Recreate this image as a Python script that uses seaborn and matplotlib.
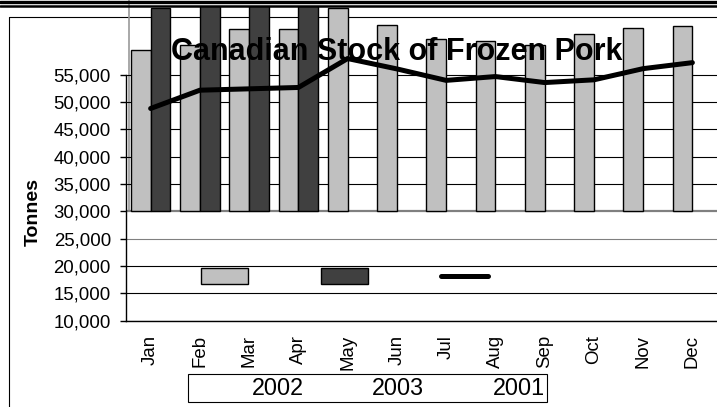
import numpy as np
import pandas as pd
import matplotlib
matplotlib.use("Agg")
import matplotlib.pyplot as plt
import seaborn as sns
from matplotlib.lines import Line2D
from matplotlib.patches import Patch

# ---- data ----
months = ["Jan", "Feb", "Mar", "Apr", "May", "Jun",
          "Jul", "Aug", "Sep", "Oct", "Nov", "Dec"]
stock_2002 = [59600, 60500, 63500, 63500, 67300, 64200,
              61650, 61300, 60400, 62550, 63650, 64000]
stock_2003 = [67300, 69000, 69500, 69500] + [np.nan] * 8
stock_2001 = [48850, 52200, 52450, 52700, 58000, 56100,
              54000, 54700, 53600, 54100, 56150, 57250]
year_labels = ["2002", "2003", "2001"]
bar_base = 30000
y_ticks = list(range(10000, 55001, 5000))

LIGHT = "#C0C0C0"
DARK = "#404040"
W, H = 717, 407

sns.set_style("white")
plt.rcParams["font.family"] = ["Liberation Sans", "DejaVu Sans"]
plt.rcParams.update({"text.color": "black", "axes.labelcolor": "black",
                     "xtick.color": "black", "ytick.color": "black"})

fig = plt.figure(figsize=(W / 100, H / 100), dpi=100)
ax = fig.add_axes([126 / W, (H - 320.5) / H, (W - 126) / W, (320.5 - 6.7) / H])
ax.patch.set_visible(False)

df = pd.DataFrame({
    "Month": months * 2,
    "Year": ["2002"] * 12 + ["2003"] * 12,
    "Tonnes": stock_2002 + stock_2003,
})
sns.barplot(data=df, x="Month", y="Tonnes", hue="Year", order=months,
            hue_order=["2002", "2003"], palette=[LIGHT, DARK],
            edgecolor="black", linewidth=1.0, errorbar=None,
            legend=False, ax=ax, zorder=2)

# bars start at 30,000 in the original
for p in ax.patches:
    h = p.get_height()
    if not np.isfinite(h) or h == 0:
        p.set_visible(False)
        continue
    p.set_y(bar_base)
    p.set_height(h - bar_base)

sns.lineplot(x=np.arange(len(months)), y=stock_2001, color="black", lw=3.6,
             ax=ax, zorder=4, solid_capstyle="round")

ax.set_xlim(-0.5, 11.5)
ax.set_ylim(10000, 67500)
ax.set_yticks(y_ticks)
ax.set_yticklabels([f"{v:,}" for v in y_ticks], fontsize=13.4, color="black")
ax.set_xticks(range(12))
ax.set_xticklabels(months, rotation=90, fontsize=13.4, color="black")
ax.set_xticks(np.arange(-0.5, 12, 1), minor=True)
ax.tick_params(axis="x", which="major", length=0, pad=10.5)
ax.tick_params(axis="x", which="minor", length=4.3, width=1, color="black", direction="out")
ax.tick_params(axis="y", length=4.3, width=1, color="black", direction="out", pad=6.5, left=True)
ax.set_xlabel("")
ax.set_ylabel("")

ax.set_axisbelow(True)
ax.yaxis.grid(True, color="black", lw=0.8)
ax.xaxis.grid(False)
glines = ax.get_ygridlines()
glines[3].set_color("#808080")
glines[4].set_color("#808080")
glines[4].set_linewidth(1.6)

for s in ["top", "right"]:
    ax.spines[s].set_visible(False)
ax.spines["left"].set_bounds(10000, 55000)
ax.spines["left"].set_color("black")
ax.spines["bottom"].set_color("black")
ax.spines["left"].set_linewidth(1)
ax.spines["bottom"].set_linewidth(1)

# chart frame and header rules
def fline(xs, ys, **kw):
    fig.add_artist(Line2D([x / W for x in xs], [1 - y / H for y in ys],
                          transform=fig.transFigure, **kw))

fline([0, W], [1.6, 1.6], color="black", lw=2.4)
fline([0, W], [5.5, 5.5], color="black", lw=1.8)
fline([9, W], [17, 17], color="black", lw=0.8, zorder=-1)
fline([9, 9], [17, H], color="black", lw=0.8, zorder=-1)
fline([128.5, 128.5], [0, 210], color="#999999", lw=1.2, zorder=-1)

fig.text(396.5 / W, 1 - 51.5 / H, "Canadian Stock of Frozen Pork", color="black",
         ha="center", va="center", fontsize=22, fontweight="bold", zorder=10)
fig.text(33 / W, 1 - 212 / H, "Tonnes", rotation=90, ha="center", va="center",
         fontsize=14, fontweight="bold", color="black")

# legend: labels stay in the box, keys drift up into the plot
leg_kw = dict(ncol=3, loc="lower left", fontsize=16.8, borderpad=0.1,
              borderaxespad=0, handlelength=2.0, handleheight=0.7,
              handletextpad=0.65, columnspacing=0.27)
blank = [Patch(facecolor="none", edgecolor="none") for _ in year_labels]
leg = fig.legend(blank, year_labels, bbox_to_anchor=(188 / W, 5 / H),
                 frameon=True, fancybox=False, edgecolor="black", framealpha=1,
                 labelcolor="black", **leg_kw)
leg.get_frame().set_linewidth(0.8)

keys = [Patch(facecolor=LIGHT, edgecolor="black", lw=1.0),
        Patch(facecolor=DARK, edgecolor="black", lw=1.0),
        Line2D([0], [0], color="black", lw=3.6, solid_capstyle="round")]
fig.legend(keys, year_labels, bbox_to_anchor=(198.7 / W, (5 + 110.5) / H),
           frameon=False, labelcolor="none", **leg_kw)

fig.savefig("out.png", dpi=100)
